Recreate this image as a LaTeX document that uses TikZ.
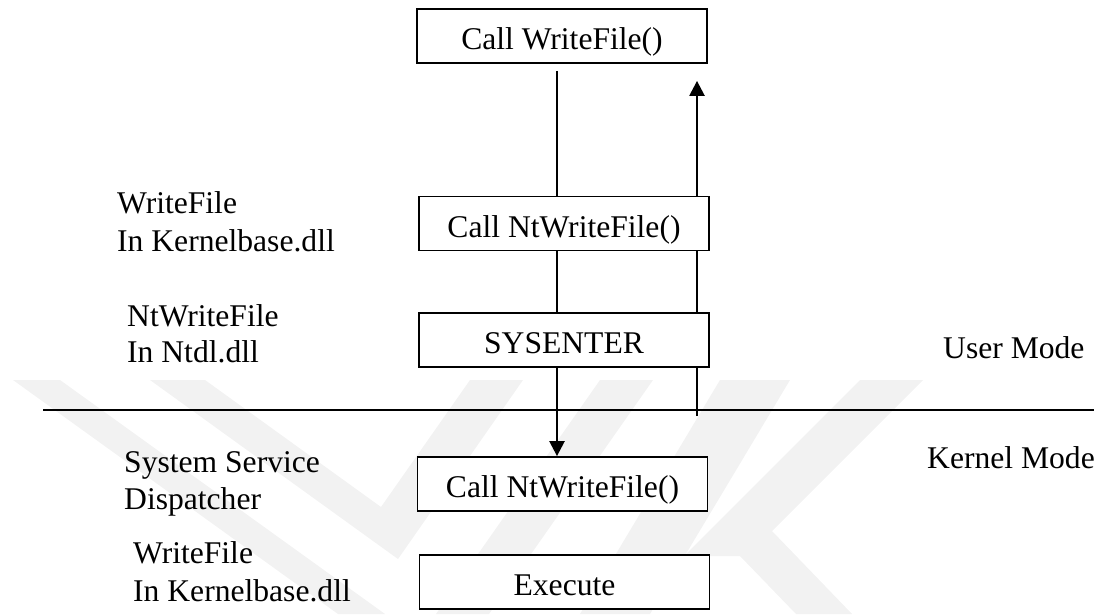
\documentclass[tikz,border=0pt]{standalone}
\usepackage{fontspec}
\setmainfont{Liberation Serif}
\usetikzlibrary{arrows.meta,backgrounds}
\tikzset{
  stepbox/.style={draw, line width=1.8pt, fill=white, minimum width=290pt,
    minimum height=54pt, inner sep=0pt, text height=27pt, text depth=0pt},
  lbl/.style={anchor=base west, inner sep=0pt},
  flow/.style={line width=2.4pt},
  flowarrow/.style={flow, -{Triangle[length=15pt,width=15pt]}},
  wm/.style={fill=black!5, draw=none},
}
\begin{document}
\begin{tikzpicture}[x=1pt, y=-1pt, font=\fontsize{31.6}{38}\selectfont]
\useasboundingbox (0,0) rectangle (1094,614);

% faint background emblem
\fill[wm] (13,380) -- (60,380) -- (385,614) -- (338,614) -- cycle;
\fill[wm] (150,380) -- (205,380) -- (381,507) -- (470,380) -- (523,380) -- (398,559) -- cycle;
\fill[wm] (600,380) -- (653,380) -- (489,614) -- (436,614) -- cycle;
\fill[wm] (720,380) -- (790,380) -- (650,614) -- (580,614) -- cycle;
\fill[wm] (860,380) -- (923,380) -- (772,531) -- (852,614) -- (796,614) -- (740,556) -- (684,556) -- cycle;

% call chain boxes
\node[stepbox] (b1) at (562,36)    {Call WriteFile()};
\node[stepbox] (b2) at (564,223.5) {Call NtWriteFile()};
\node[stepbox] (b3) at (564,340)   {SYSENTER};
\node[stepbox] (b4) at (562.5,484) {Call NtWriteFile()};
\node[stepbox] (b5) at (564.5,582) {Execute};

% side labels
\node[lbl] (l1a) at (117,213) {WriteFile};
\node[lbl] (l1b) at (117,251) {In Kernelbase.dll};
\node[lbl] (l2a) at (127,326) {NtWriteFile};
\node[lbl] (l2b) at (127,362) {In Ntdl.dll};
\node[lbl] (l3a) at (124,472) {System Service};
\node[lbl] (l3b) at (124,509) {Dispatcher};
\node[lbl] (l4a) at (133,563) {WriteFile};
\node[lbl] (l4b) at (133,601) {In Kernelbase.dll};
\node[lbl] (um) at (943,358) {User Mode};
\node[lbl] (km) at (927,468) {Kernel Mode};

% user / kernel boundary
\coordinate (hl) at (43,410);
\coordinate (hr) at (1094,410);
\draw[flow] (hl) -- (hr);

% downward call path
\coordinate (lx) at (557,0);
\path ([yshift=-7pt]b1.south) coordinate (d0);
\draw[flow] (d0 -| lx) -- (b2.north -| lx);
\draw[flow] (b2.south -| lx) -- (b3.north -| lx);
\draw[flowarrow] (b3.south -| lx) -- (b4.north -| lx);

% return path, passing behind the boxes
\coordinate (rb) at (697,416);
\path ([yshift=-17pt]b1.south) coordinate (r0);
\begin{scope}[on background layer]
  \draw[flowarrow] (rb) -- (r0 -| rb);
\end{scope}
\end{tikzpicture}
\end{document}
